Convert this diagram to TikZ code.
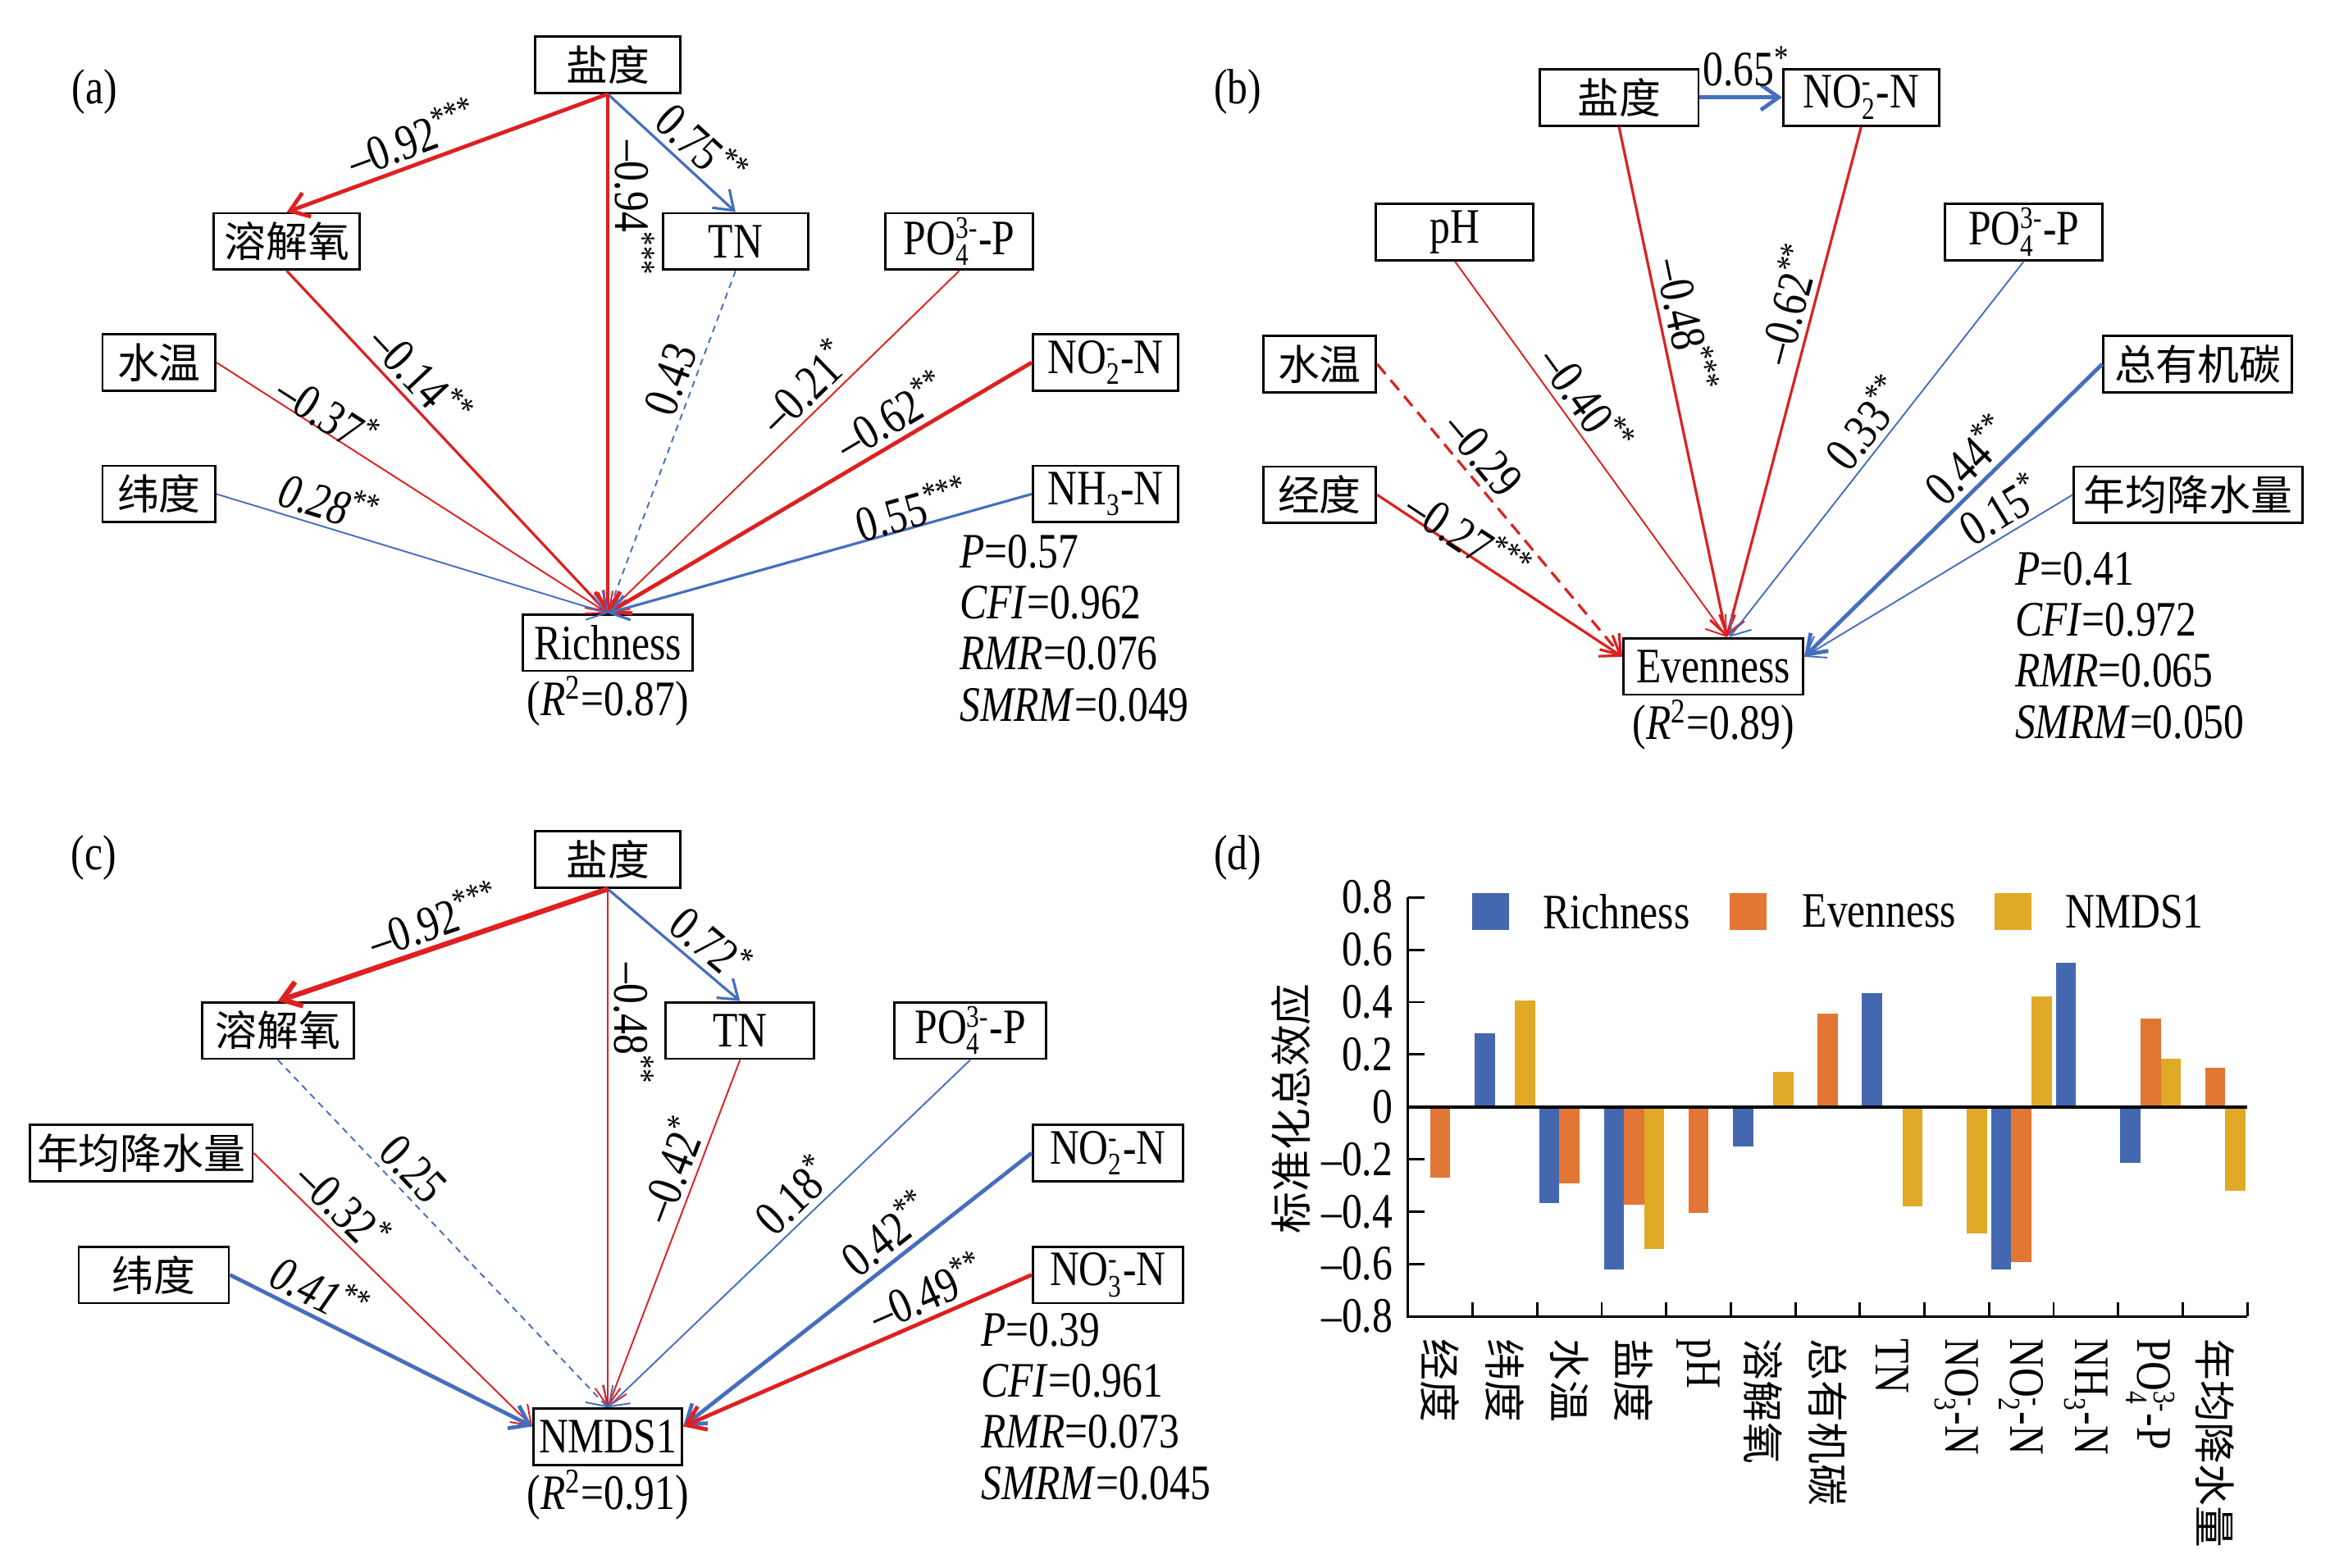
\documentclass[tikz,border=0pt]{standalone}
\usepackage{fontspec}
\setmainfont{Liberation Serif}[FakeStretch=0.82]
\newfontfamily\zh{Noto Sans CJK SC}[Scale=0.84]
\usetikzlibrary{arrows.meta}

\newcommand{\sg}[1]{\textsuperscript{#1}}
\newcommand{\ion}[2]{\ensuremath{^{\mbox{\fontsize{12}{12}\selectfont#1}}_{\mbox{\fontsize{12}{12}\selectfont#2}}}}

\definecolor{negred}{RGB}{222,32,32}
\definecolor{posblue}{RGB}{70,110,190}
\definecolor{barR}{RGB}{68,104,176}
\definecolor{barE}{RGB}{226,118,52}
\definecolor{barN}{RGB}{224,170,38}

\begin{document}
\begin{tikzpicture}[x=0.02cm, y=-0.02cm,
		font=\fontsize{19}{21}\selectfont,
		>={Straight Barb[length=2.4mm,width=3.4mm]},
		var/.style={draw, line width=0.9pt, minimum height=0.76cm, minimum width=#1, inner sep=1pt},
		var/.default=1.96cm,
		negeff/.style={->, draw=negred},
		poseff/.style={->, draw=posblue},
		w1/.style={line width=0.6pt},
		w2/.style={line width=1pt},
		w3/.style={line width=1.5pt},
		dsh/.style={dash pattern=on 2.5pt off 2pt},
		lab/.style={sloped, above, inner sep=2pt},
		vlab/.style={rotate=-90, anchor=south, inner sep=2pt},
		gof/.style={anchor=west, align=left, inner sep=0, font=\fontsize{19}{19.6}\selectfont},
		leg/.style={minimum size=0.5cm, inner sep=0}]
		\useasboundingbox (0,0) rectangle (1568,1055);

		% (a) Richness
		\draw (63.5,62) node (labA) {(a)};
		\draw (409,43.5) node [var] (salA) {\zh 盐度};
		\draw (193,162.5) node [var] (doA) {\zh 溶解氧};
		\draw (495,162.5) node [var] (tnA) {TN};
		\draw (645.5,162.5) node [var=1.98cm] (poA) {PO\ion{3-}{4}-P};
		\draw (107,244) node [var=1.52cm] (wtA) {\zh 水温};
		\draw (744,244) node [var] (no2A) {NO\ion{-}{2}-N};
		\draw (107,332.5) node [var=1.52cm] (latA) {\zh 纬度};
		\draw (744,332.5) node [var] (nh3A) {NH\ion{}{3}-N};
		\draw (409,432.5) node [var=2.28cm] (richA) {Richness};
		\draw (409,472) node (r2A) {(\textit{R}\sg{2}=0.87)};
		\draw (645.5,422.75) node [gof] (gofA) {\textit{P}=0.57\\\textit{CFI}=0.962\\\textit{RMR}=0.076\\\textit{SMRM}=0.049};
		\draw
		(salA.south) edge [negeff, w3] node [lab, pos=.58] {--0.92\sg{***}} (doA.north)
		(salA.south) edge [poseff, w2] node [lab, pos=.6] {0.75\sg{**}} (tnA.north)
		(salA.south) edge [negeff, w3] node [vlab, pos=.22] {--0.94\sg{***}} (richA.north)
		(doA.south) edge [negeff, w2] node [lab, pos=.36] {--0.14\sg{**}} (richA.north)
		(tnA.south) edge [poseff, w1, dsh] node [lab, pos=.34] {0.43} (richA.north)
		(poA.south) edge [negeff, w1] node [lab, pos=.39] {--0.21\sg{*}} (richA.north)
		(wtA.east) edge [negeff, w1] node [lab, pos=.26, inner sep=-1pt] {--0.37\sg{*}} (richA.north)
		(latA.east) edge [poseff, w1] node [lab, pos=.27] {\textit{0.28}\sg{**}} (richA.north)
		(no2A.west) edge [negeff, w3] node [lab, pos=.3] {--0.62\sg{**}} (richA.north)
		(nh3A.west) edge [poseff, w2] node [lab, pos=.27, inner sep=-1pt] {0.55\sg{***}} (richA.north);

		% (b) Evenness
		\draw (833,62) node (labB) {(b)};
		\draw (1089.5,65.5) node [var=2.14cm] (salB) {\zh 盐度};
		\draw (1252.5,65.5) node [var=2.1cm] (no2B) {NO\ion{-}{2}-N};
		\draw (979,156) node [var=2.12cm] (phB) {pH};
		\draw (1362,156) node [var=2.12cm] (poB) {PO\ion{3-}{4}-P};
		\draw (888,245) node [var=1.52cm] (wtB) {\zh 水温};
		\draw (1479,245) node [var=2.54cm] (tocB) {\zh 总有机碳};
		\draw (888,333) node [var=1.52cm] (lonB) {\zh 经度};
		\draw (1472.5,333) node [var=3.08cm] (preB) {\zh 年均降水量};
		\draw (1153,448.5) node [var=2.42cm] (evenB) {Evenness};
		\draw (1153,488) node (r2B) {(\textit{R}\sg{2}=0.89)};
		\draw (1355.7,434.4) node [gof] (gofB) {\textit{P}=0.41\\\textit{CFI}=0.972\\\textit{RMR}=0.065\\\textit{SMRM}=0.050};
		\draw
		(salB.east) edge [poseff, w3] node [above, pos=.57] {0.65\sg{*}} (no2B.west)
		(salB.south) edge [negeff, w2] node [lab, pos=.4] {--0.48\sg{***}} ([xshift=0.18cm]evenB.north)
		(no2B.south) edge [negeff, w2] node [lab, pos=.36] {--0.62\sg{**}} ([xshift=0.18cm]evenB.north)
		(phB.south) edge [negeff, w1] node [lab, pos=.41] {--0.40\sg{**}} ([xshift=0.18cm]evenB.north)
		(poB.south) edge [poseff, w1] node [lab, pos=.47] {0.33\sg{**}} ([xshift=0.22cm]evenB.north)
		(wtB.east) edge [negeff, w2, dash pattern=on 5pt off 3pt] node [lab, pos=.36] {--0.29} ([yshift=0.13cm]evenB.west)
		(lonB.east) edge [negeff, w2] node [lab, pos=.34, inner sep=-2pt] {--0.27\sg{***}} ([yshift=0.13cm]evenB.west)
		(tocB.west) edge [poseff, w3] node [lab, pos=.39] {0.44\sg{**}} ([yshift=0.13cm]evenB.east)
		(preB.west) edge [poseff, w1] node [lab, pos=.22] {0.15\sg{*}} ([yshift=0.13cm]evenB.east);

		% (c) NMDS1
		\draw (63,577) node (labC) {(c)};
		\draw (409,578.5) node [var] (salC) {\zh 盐度};
		\draw (187,693.5) node [var=2.04cm] (doC) {\zh 溶解氧};
		\draw (498,693.5) node [var=2cm] (tnC) {TN};
		\draw (653,693.5) node [var=2.04cm] (poC) {PO\ion{3-}{4}-P};
		\draw (95,776) node [var=3cm] (preC) {\zh 年均降水量};
		\draw (745.5,776) node [var=2.02cm] (no2C) {NO\ion{-}{2}-N};
		\draw (103.5,858) node [var=2.02cm] (latC) {\zh 纬度};
		\draw (745.5,858) node [var=2.02cm] (no3C) {NO\ion{-}{3}-N};
		\draw (409,967) node [var=2cm] (nmdsC) {NMDS1};
		\draw (409,1006) node (r2C) {(\textit{R}\sg{2}=0.91)};
		\draw (660,946.5) node [gof] (gofC) {\textit{P}=0.39\\\textit{CFI}=0.961\\\textit{RMR}=0.073\\\textit{SMRM}=0.045};
		\draw
		(salC.south) edge [negeff, line width=2pt] node [lab, pos=.5] {--0.92\sg{***}} (doC.north)
		(salC.south) edge [poseff, w2] node [lab, pos=.66] {0.72\sg{*}} (tnC.north)
		(salC.south) edge [negeff, w1] node [vlab, pos=.26] {--0.48\sg{**}} (nmdsC.north)
		(doC.south) edge [poseff, w1, dsh] node [lab, pos=.36] {0.25} (nmdsC.north)
		(tnC.south) edge [negeff, w1] node [lab, pos=.34] {--0.42\sg{*}} (nmdsC.north)
		(poC.south) edge [poseff, w1] node [lab, pos=.44] {0.18\sg{*}} (nmdsC.north)
		(preC.east) edge [negeff, w1] node [lab, pos=.26] {--0.32\sg{*}} ([yshift=0.14cm]nmdsC.west)
		(latC.east) edge [poseff, w3] node [lab, pos=.26] {\textit{0.41}\sg{**}} ([yshift=0.14cm]nmdsC.west)
		(no2C.west) edge [poseff, w3] node [lab, pos=.37] {0.42\sg{**}} ([yshift=0.14cm]nmdsC.east)
		(no3C.west) edge [negeff, w3] node [lab, pos=.27] {--0.49\sg{**}} ([yshift=0.14cm]nmdsC.east);

		% (d) total effects
		\draw (833,577) node (labD) {(d)};
		\draw (869,746) node [rotate=90] (ylab) {\zh 标准化总效应};
		\draw (1003.2,613.4) node [leg, fill=barR] (legR) {};
		\draw (1038,613.4) node [anchor=west, inner sep=0] (legRt) {Richness};
		\draw (1176.5,613.4) node [leg, fill=barE] (legE) {};
		\draw (1212.6,613.4) node [anchor=west, inner sep=0] (legEt) {Evenness};
		\draw (1354.8,613.4) node [leg, fill=barN] (legN) {};
		\draw (1389.6,613.4) node [anchor=west, inner sep=0] (legNt) {NMDS1};
		\begin{scope}[shift={(947.5,744.9)}, x=0.8692cm, y=3.525cm]
			\foreach \v [count=\i from 0] in {0,0.281,-0.369,-0.622,0,-0.151,0,0.433,0,-0.622,0.551,-0.213,0}
				\fill[barR] (\i+0.033,0) rectangle (\i+0.345,\v);
			\foreach \v [count=\i from 0] in {-0.27,0,-0.291,-0.374,-0.404,0,0.355,0,0,-0.594,0,0.336,0.149}
				\fill[barE] (\i+0.345,0) rectangle (\i+0.657,\v);
			\foreach \v [count=\i from 0] in {0,0.407,0,-0.544,0,0.133,0,-0.38,-0.482,0.421,0,0.184,-0.322}
				\fill[barN] (\i+0.657,0) rectangle (\i+0.969,\v);
			\draw[line width=0.9pt] (0,0.8) -- (0,-0.8) -- (13,-0.8);
			\draw[line width=1.2pt] (0,0) -- (13,0);
			\foreach \i in {1,...,13}
				\draw[line width=0.9pt] (\i,-0.8) -- ++(0,0.19cm);
			\foreach \v/\lbl [count=\k] in {0.8/0.8,0.6/0.6,0.4/0.4,0.2/0.2,0/0,-0.2/--0.2,-0.4/--0.4,-0.6/--0.6,-0.8/--0.8} {
				\draw[line width=0.9pt] (0,\v) -- ++(0.22cm,0);
				\node[anchor=east, inner sep=0] (yt\k) at ([xshift=-0.2cm]0,\v) {\lbl};
			}
			\foreach \lbl [count=\i from 0] in {{\zh 经度},{\zh 纬度},{\zh 水温},{\zh 盐度},pH,{\zh 溶解氧},{\zh 总有机碳},TN,NO\ion{-}{3}-N,NO\ion{-}{2}-N,NH\ion{}{3}-N,PO\ion{3-}{4}-P,{\zh 年均降水量}}
				\node[rotate=-90, anchor=west, inner sep=0] (xt\i) at ([yshift=-0.3cm]\i+0.5,-0.8) {\lbl};
		\end{scope}
	\end{tikzpicture}
\end{document}
